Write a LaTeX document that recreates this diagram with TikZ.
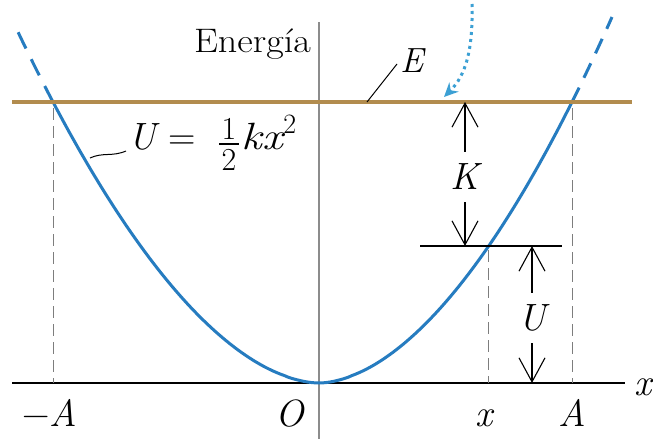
\documentclass[tikz,border=0pt]{standalone}
\usepackage{fix-cm}
\usepackage{fontspec}
\usepackage{graphicx}
\usetikzlibrary{arrows.meta}
\definecolor{curveblue}{RGB}{38,124,192}
\definecolor{dotblue}{RGB}{60,160,212}
\definecolor{egold}{RGB}{178,140,78}
\definecolor{guidegray}{RGB}{125,125,125}
\definecolor{axgray}{RGB}{140,140,140}
\tikzset{
  axisline/.style={black, line width=1.3pt},
  vaxisline/.style={axgray, line width=1.6pt},
  eline/.style={egold, line width=3.6pt},
  curveline/.style={curveblue, line width=3pt},
  guide/.style={guidegray, line width=1pt, dash pattern=on 12pt off 6pt},
  dimarrow/.style={black, line width=1.1pt, -{Straight Barb[length=24pt,width=26pt]}},
  lbl/.style={font=\fontsize{38}{40}\selectfont\itshape, inner sep=0pt},
  fracdigit/.style={font=\fontsize{32}{34}\selectfont, inner sep=0pt},
  leader/.style={black, line width=1pt}
}
\begin{document}
\begin{tikzpicture}[x=1pt,y=-1pt]
\useasboundingbox (0,0) rectangle (653,439);
\fill[white] (0,0) rectangle (653,439);
% axes
\coordinate (xl) at (12,383);
\coordinate (xr) at (625,383);
\coordinate (vt) at (319,22);
\coordinate (vb) at (319,439);
\draw[vaxisline] (vt) -- (vb);
\draw[axisline] (xl) -- (xr);
\node[lbl, anchor=base west] (xlab) at (634,395) {x};
\node[anchor=base east, font=\fontsize{34}{36}\selectfont, inner sep=0pt] (en) at (311,52) {\scalebox{1.12}[1]{Energía}};
% guides
\coordinate (gA1) at (53,108);  \coordinate (gA2) at (53,383);
\coordinate (gB1) at (572,108); \coordinate (gB2) at (572,383);
\coordinate (gx1) at (488,250); \coordinate (gx2) at (488,383);
\draw[guide] (gA1) -- (gA2);
\draw[guide] (gB1) -- (gB2);
\draw[guide] (gx1) -- (gx2);
% curve
\draw[curveline] plot[domain=266:0, samples=70] ({319-\x},{383-281*pow(\x/266+0.0001,1.8)})
  -- plot[domain=0:253, samples=70] ({319+\x},{383-281*pow(\x/253+0.0001,1.8)});
\draw[curveline, dash pattern=on 18pt off 12pt] plot[domain=266:304, samples=20] ({319-\x},{383-281*pow(\x/266,1.8)});
\draw[curveline, dash pattern=on 16pt off 11pt] plot[domain=253:293, samples=20] ({319+\x},{383-281*pow(\x/253,1.8)});
% energy line
\coordinate (el) at (12,102);
\coordinate (er) at (632,102);
\draw[eline] (el) -- (er);
% E label
\node[lbl, anchor=base west, font=\fontsize{35}{36}\selectfont\itshape] (Elab) at (400,72) {E};
\coordinate (Eleadstart) at (367,102);
\coordinate (Eleadend) at (397,64);
\draw[leader] (Eleadstart) -- (Eleadend);
% U formula
\node[lbl, anchor=base west] (Ulab) at (128,149) {U};
\node[lbl, anchor=base west, font=\fontsize{38}{40}\selectfont] (eq) at (168,149) {=};
\node[fracdigit, anchor=base] (fnum) at (229,139) {1};
\node[fracdigit, anchor=base] (fden) at (229,170) {2};
\coordinate (bar1) at (219,144);
\coordinate (bar2) at (239,144);
\draw[black, line width=1.4pt] (bar1) -- (bar2);
\node[lbl, anchor=base west] (kx) at (241,149) {\scalebox{1.2}[1]{k\hspace{1pt}x}\raisebox{16pt}{\upshape\fontsize{28}{28}\selectfont 2}};
\coordinate (Ucurve) at (90,158);
\draw[leader] (Ucurve) .. controls (103,152) and (112,157) .. ([xshift=-2pt,yshift=-2pt]Ulab.base west);
% dotted arrow
\coordinate (dtop) at (472,4);
\coordinate (dtip) at (444,97);
\draw[dotblue, line width=3pt, dash pattern=on 3pt off 4pt, -{Stealth[length=14pt,width=13pt]}] (dtop) .. controls (473,50) and (466,75) .. (dtip);
% K and U dimension arrows
\coordinate (kline1) at (420,246);
\coordinate (kline2) at (562,246);
\draw[axisline] (kline1) -- (kline2);
\node[lbl, minimum height=50pt] (K) at (465,177) {K};
\coordinate (Ktop) at (465,102);
\coordinate (Kbot) at (465,246);
\draw[dimarrow] (K.north) -- (Ktop);
\draw[dimarrow] (K.south) -- (Kbot);
\node[lbl, minimum height=50pt] (U) at (532,318) {U};
\coordinate (Utop) at (532,246);
\coordinate (Ubot) at (532,383);
\draw[dimarrow] (U.north) -- (Utop);
\draw[dimarrow] (U.south) -- (Ubot);
% axis labels
\node[lbl, anchor=base] (mA) at (50,426) {\upshape −\itshape A};
\node[lbl, anchor=base] (Olab) at (290,426) {O};
\node[lbl, anchor=base] (xx) at (484,426) {x};
\node[lbl, anchor=base] (Alab) at (572,426) {A};
\end{tikzpicture}
\end{document}
